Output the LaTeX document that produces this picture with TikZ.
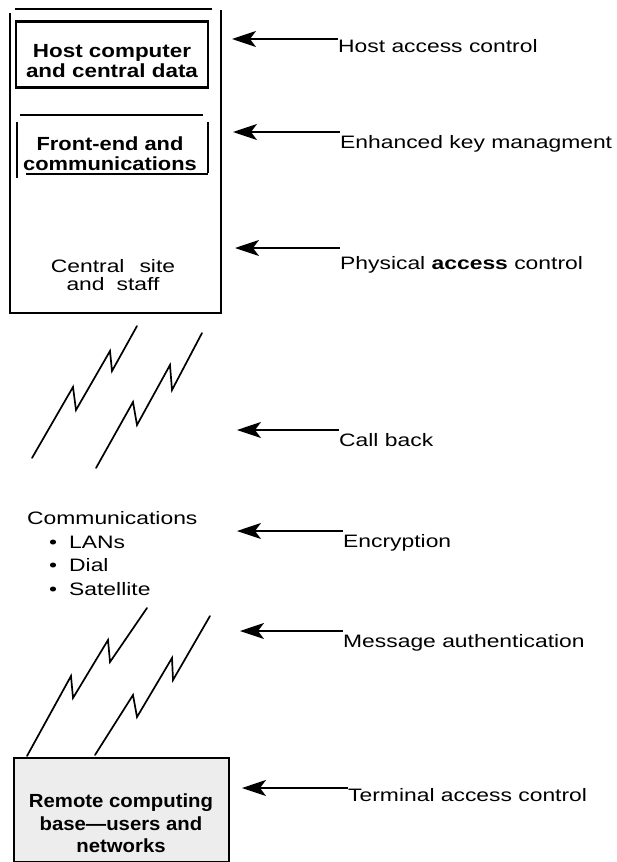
\documentclass[tikz,border=0pt]{standalone}
\usepackage{fontspec}
\setmainfont{Liberation Sans}
\newfontfamily\labf[FakeStretch=1.27]{Liberation Sans}
\newfontfamily\hostf[FakeStretch=1.18]{Liberation Sans}
\newfontfamily\fef[FakeStretch=1.15]{Liberation Sans}
\newfontfamily\remf[FakeStretch=1.07]{Liberation Sans}
\usetikzlibrary{arrows.meta}
\begin{document}
\begin{tikzpicture}[x=1pt,y=-1pt,
  lab/.style={anchor=base west, inner sep=0pt, font=\labf\fontsize{18}{22}\selectfont},
  hostt/.style={anchor=base, inner sep=0pt, font=\hostf\bfseries\fontsize{19}{19}\selectfont},
  fet/.style={anchor=base, inner sep=0pt, font=\fef\bfseries\fontsize{19}{19}\selectfont},
  remt/.style={anchor=base, inner sep=0pt, font=\remf\bfseries\fontsize{19}{19}\selectfont},
  cent/.style={anchor=base, inner sep=0pt, font=\labf\fontsize{18}{18}\selectfont},
  arr/.style={line width=1.6pt, -{Stealth[length=24pt,width=16pt,inset=6pt]}},
  bolt/.style={line width=1.7pt, line join=miter, line cap=round},
  frame/.style={line width=1.6pt},
  thick box/.style={draw, line width=2.4pt, inner sep=0pt}
]
\useasboundingbox (0,0) rectangle (616,862);

% central site outer frame
\draw[frame] (15,9) -- (212,9);
\draw[frame] (10,13) -- (10,313) -- (221,313) -- (221,10);

% host computer box
\node[thick box, minimum width=192pt, minimum height=66pt] (host) at (112,54.5) {};
\node[hostt] (host1) at (112,57) {Host computer};
\node[hostt] (host2) at (112,77) {and central data};

% front-end box (open)
\draw[line width=1.5pt] (20,115) -- (203,115);
\draw[line width=2.4pt] (17,122) -- (17,178);
\draw[line width=1.5pt] (208,122) -- (208,173);
\draw[line width=1.5pt] (26,174) -- (208,174);
\node[fet] (fe1) at (110,150) {Front-end and};
\node[fet] (fe2) at (110,170) {communications};

% central site text
\node[cent] (cs1) at (113,272) {Central\hspace{15pt}site};
\node[cent] (cs2) at (113,290) {and\hspace{12pt}staff};

% lightning bolts (upper)
\draw[bolt] (32,458) -- (73,387) -- (76,410) -- (110,351) -- (112,371) -- (137,326);
\draw[bolt] (96,468) -- (133,402) -- (137,425) -- (170,365) -- (172,390) -- (202,333);

% communications list
\node[lab] (com) at (27,524) {Communications};
\node[lab] (lan) at (49,548) {\makebox[20pt][l]{\textbullet}LANs};
\node[lab] (dial) at (49,571) {\makebox[20pt][l]{\textbullet}Dial};
\node[lab] (sat) at (49,595) {\makebox[20pt][l]{\textbullet}Satellite};

% lightning bolts (lower)
\draw[bolt] (27,756) -- (71,676) -- (73,698) -- (108,640) -- (110,662) -- (147,608);
\draw[bolt] (95,755) -- (133,695) -- (137,717) -- (172,658) -- (173,680) -- (210,616);

% remote box
\node[thick box, fill=black!7, minimum width=215pt, minimum height=104pt] (rem) at (121.5,810) {};
\node[remt] (rem1) at (121,807) {Remote computing};
\node[remt] (rem2) at (121,830) {base—users and};
\node[remt] (rem3) at (121,852) {networks};

% labels and arrows
\node[lab] (l1) at (338,52) {Host access control};
\node[lab] (l2) at (340,148) {Enhanced key managment};
\node[lab] (l3) at (340,269) {Physical \textbf{access} control};
\node[lab] (l4) at (339,446) {Call back};
\node[lab] (l5) at (343,547) {Encryption};
\node[lab] (l6) at (343,647) {Message authentication};
\node[lab] (l7) at (348,801) {Terminal access control};

\coordinate (t1) at (232,39);
\coordinate (t2) at (233,132);
\coordinate (t3) at (235,248);
\coordinate (t4) at (237,430);
\coordinate (t5) at (237,531);
\coordinate (t6) at (240,631);
\coordinate (t7) at (242,788);

\draw[arr] (l1.west |- t1) -- (t1);
\draw[arr] (l2.west |- t2) -- (t2);
\draw[arr] (l3.west |- t3) -- (t3);
\draw[arr] (l4.west |- t4) -- (t4);
\draw[arr] (l5.west |- t5) -- (t5);
\draw[arr] (l6.west |- t6) -- (t6);
\draw[arr] (l7.west |- t7) -- (t7);
\end{tikzpicture}
\end{document}
